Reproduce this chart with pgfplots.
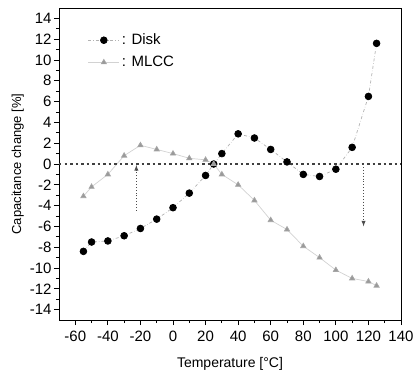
\documentclass[border=0pt]{standalone}
\usepackage{fontspec}
\setmainfont{Liberation Sans}
\usepackage{pgfplots}
\pgfplotsset{compat=1.18}
\begin{document}
\begin{tikzpicture}
\begin{axis}[
  name=ax,
  scale only axis,
  width=342pt, height=312pt,
  xmin=-70, xmax=140, ymin=-15, ymax=15,
  xtick={-60,-40,...,140},
  ytick={-14,-12,...,14},
  minor x tick num=1,
  minor y tick num=1,
  tick align=outside,
  xtick pos=left, ytick pos=left,
  major tick length=5pt, minor tick length=3pt,
  tick style={black, line width=0.8pt},
  axis line style={line width=0.9pt},
  /pgf/number format/assume math mode=true,
  ticklabel style={font=\fontsize{15}{16}\selectfont},
  xticklabel style={yshift=-2pt},
  yticklabel style={xshift=1pt},
  xlabel={Temperature [°C]},
  ylabel={Capacitance change [\%]},
  xlabel style={font=\fontsize{14}{15}\selectfont, yshift=-9pt},
  ylabel style={font=\fontsize{13}{14}\selectfont, yshift=-1pt},
  legend style={draw=none, fill=none, at={(rel axis cs:0.075,0.93)}, anchor=north west,
     font=\fontsize{15}{16}\selectfont, row sep=6pt},
  legend cell align=left,
  legend image code/.code={\draw[mark repeat=2,mark phase=2] plot coordinates {(0cm,0cm) (0.55cm,0cm) (1.1cm,0cm)};},
  clip=false,
]
\addplot[gray!60, dash dot, line width=0.7pt, mark=*, mark size=3.4pt,
  mark options={solid, fill=black, draw=black}] coordinates {
(-55,-8.4) (-50,-7.5) (-40,-7.4) (-30,-6.9) (-20,-6.2) (-10,-5.3) (0,-4.2)
(10,-2.8) (20,-1.1) (25,0.0) (30,1.0) (40,2.9) (50,2.5) (60,1.4) (70,0.2)
(80,-1.0) (90,-1.2) (100,-0.5) (110,1.6) (120,6.5) (125,11.6)
};
\addlegendentry{: Disk}
\addplot[gray!35, line width=0.7pt, mark=triangle*, mark size=3.0pt,
  mark options={solid, fill=gray!80, draw=gray!70}] coordinates {
(-55,-3.1) (-50,-2.2) (-40,-1.0) (-30,0.8) (-20,1.8) (-10,1.4) (0,1.0)
(10,0.55) (20,0.4) (25,0.0) (30,-1.0) (40,-2.0) (50,-3.5) (60,-5.4) (70,-6.3)
(80,-7.9) (90,-9.0) (100,-10.2) (110,-11.0) (120,-11.3) (125,-11.7)
};
\addlegendentry{: MLCC}
\draw[black!75, dash pattern=on 2.5pt off 3pt, line width=1.4pt] (axis cs:-70,0) -- (axis cs:140,0);
\draw[black!70, dotted, line width=0.9pt, -latex] (axis cs:-22.5,-4.5) -- (axis cs:-22.5,-0.1);
\draw[black!70, dotted, line width=0.9pt, -latex] (axis cs:117,0) -- (axis cs:117,-6.0);
\end{axis}
\pgfresetboundingbox
\path ([xshift=-59pt,yshift=-55pt]ax.south west) rectangle ([xshift=13pt,yshift=8pt]ax.north east);
\end{tikzpicture}
\end{document}
